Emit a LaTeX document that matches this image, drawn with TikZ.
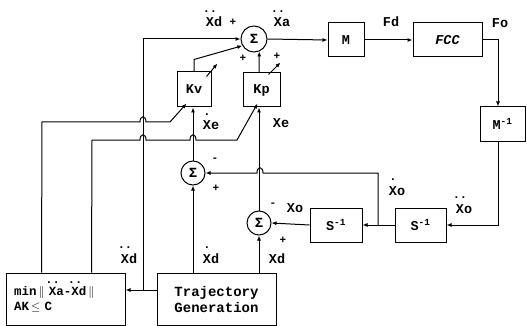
\documentclass[tikz,border=0pt]{standalone}
\usepackage{fontspec}
\setmainfont{Liberation Mono}
\usetikzlibrary{arrows.meta,calc}
\newcommand{\ddX}[1][1.05em]{\ooalign{X\cr\hidewidth\raisebox{#1}{\fontsize{12}{12}\selectfont..}\hidewidth\cr}}
\newcommand{\dX}[1][1.05em]{\ooalign{X\cr\hidewidth\raisebox{#1}{\fontsize{12}{12}\selectfont.}\hidewidth\cr}}
\begin{document}
\begin{tikzpicture}[x=1pt,y=-1pt,
  line width=1pt,
  >={Latex[length=5pt,width=4pt]},
  blk/.style={draw, rectangle, inner sep=0pt, font=\fontsize{13.5}{15}\selectfont\bfseries},
  sumnode/.style={draw, circle, minimum size=26pt, inner sep=0pt, font=\fontsize{14}{15}\selectfont\bfseries},
  lbl/.style={font=\fontsize{13.5}{15}\selectfont\bfseries, inner sep=0pt, anchor=base},
  sgn/.style={font=\fontsize{11}{12}\selectfont\bfseries, inner sep=0pt}]

\useasboundingbox (0,0) rectangle (527,326);

% blocks
\node[sumnode] (s1) at (254,39) {Σ};
\node[blk, minimum width=36pt, minimum height=34pt] (M) at (346,40) {M};
\node[blk, minimum width=69pt, minimum height=34pt, font=\fontsize{13.5}{15}\selectfont\bfseries\itshape] (FCC) at (447.5,40) {FCC};
\node[blk, minimum width=45pt, minimum height=34pt] (Mi) at (502.5,124) {M\textsuperscript{-1}};
\node[blk, minimum width=34pt, minimum height=35pt] (Kv) at (194,89.5) {Kv};
\node[blk, minimum width=37pt, minimum height=34pt] (Kp) at (261.5,90) {Kp};
\node[sumnode, minimum size=24pt] (s2) at (193,173) {Σ};
\node[sumnode, minimum size=24pt] (s3) at (259,223) {Σ};
\node[blk, minimum width=52pt, minimum height=34pt] (S1) at (336,225) {S\textsuperscript{-1}};
\node[blk, minimum width=51pt, minimum height=34pt] (S2) at (420.5,225) {S\textsuperscript{-1}};
\node[blk, minimum width=119pt, minimum height=52pt, align=left, font=\fontsize{14}{16}\selectfont\bfseries] (TG) at (216.5,299) {Trajectory\\Generation};
\node[blk, minimum width=119pt, minimum height=52pt, text width=103pt, align=left, font=\fontsize{12.5}{15}\selectfont\bfseries] (MB) at (65.5,299) {min\,$\|$\ \ddX[0.9em]a-\ddX[0.9em]d\,$\|$\\AK\,$\leq$\,\,C};

% junction coordinates
\coordinate (j1) at (143,290);
\coordinate (j2) at (378,225);

% forward path
\draw[->] (s1.east) -- (M.west);
\draw[->] (M) -- (FCC);
\draw[->] (FCC.east) -| ($(Mi.north)+(-4.5,0)$);
\draw[->] ($(Mi.south)+(-4.5,0)$) |- (S2.east);
\draw[->] (S2.west) -- (S1.east);
\draw[->] (S1.west) -- (s3.east);
\draw[->] (j2) -- (378,173) -- (263,173) .. controls (263,166) and (257,166) .. (257,173) -- (s2.east);

% trajectory outputs
\draw[->] (TG.west |- j1) -- (MB.east |- j1);
\draw[->] (j1) -- (143,39) -- (s1.west);
\draw[->] (TG.north -| s2) -- (s2.south);
\draw[->] (TG.north -| s3) -- (s3.south);

% errors to gains
\draw[->] (s2.north) -- (s2.north |- Kv.south);
\draw[->] (s3.north) -- (s3.north |- Kp.south);

% gains to top sum
\draw[->] (Kv.north) -- ++(0,-12) -- (s1.210);
\draw[->] (Kp.north -| s3) -- (s1.-67);

% adaptation from min box
\draw[->] ($(MB.north west)+(36,0)$) -- (42,122) -- (140,122) .. controls (140,115) and (146,115) .. (146,122) -- (170,122) -- ($(Kv.south west)+(10,-4)$);
\draw[->] ($(MB.north west)+(86,0)$) -- (92,140) -- (140,140) .. controls (140,133) and (146,133) .. (146,140) -- (190,140) .. controls (190,133) and (196,133) .. (196,140) -- (237,140) -- ($(Kp.south west)+(15,-4)$);

% variable gain arrows
\draw[->] ($(Kv.north east)+(-5,5)$) -- ++(11,-13);
\draw[->] ($(Kp.north east)+(-12,2)$) -- ++(12,-12);

% labels
\node[lbl] (l1) at (214,27) {\ddX d};
\node[lbl] (l2) at (282,27) {\ddX a};
\node[lbl] (l3) at (391,27) {Fd};
\node[lbl] (l4) at (500,28) {Fo};
\node[lbl] (l5) at (211,130) {\dX e};
\node[lbl] (l6) at (281,128) {Xe};
\node[lbl] (l7) at (397,195) {\dX o};
\node[lbl] (l8) at (464,213) {\ddX o};
\node[lbl] (l9) at (295,212) {Xo};
\node[lbl] (l10) at (277,263) {Xd};
\node[lbl] (l11) at (211,263) {\dX d};
\node[lbl] (l12) at (129,263) {\ddX d};

% signs
\node[sgn] (p1) at (233,22) {+};
\node[sgn] (p2) at (243,58) {+};
\node[sgn] (p3) at (277,56) {+};
\node[sgn] (m2) at (215,160) {-};
\node[sgn] (p4) at (216,188) {+};
\node[sgn] (m3) at (273,205) {-};
\node[sgn] (p5) at (283,240) {+};
\end{tikzpicture}
\end{document}
